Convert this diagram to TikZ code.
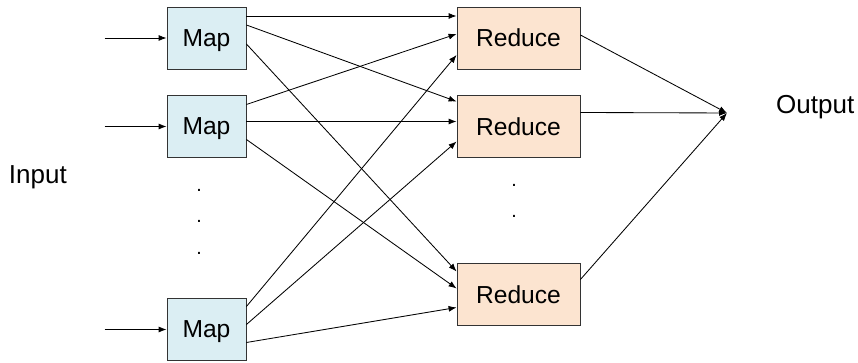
\documentclass[tikz,border=0pt]{standalone}
\usepackage{fontspec}
\setmainfont{Liberation Sans}
\usetikzlibrary{arrows.meta}

\definecolor{mapfill}{RGB}{219,238,243}
\definecolor{redfill}{RGB}{252,228,208}

\tikzset{
  mapbox/.style={draw=black!80, fill=mapfill, line width=0.6pt,
    minimum width=1.975cm, minimum height=1.55cm, inner sep=0pt, text depth=0pt},
  redbox/.style={draw=black!80, fill=redfill, line width=0.6pt,
    minimum width=3.075cm, minimum height=1.55cm, inner sep=0pt, text depth=0pt},
  flow/.style={-{Latex[length=2mm,width=1.5mm]}, line width=0.6pt},
  side/.style={anchor=base west, font=\fontsize{18.5}{22}\selectfont},
  gap/.style={anchor=base, inner sep=0pt, font=\fontsize{14}{16}\selectfont},
}

\begin{document}
\begin{tikzpicture}[font=\fontsize{17.5}{20}\selectfont]
  \useasboundingbox (0,0) rectangle (21.45,9.075);

  \node[mapbox] (m1) at (5.1625, 8.125) {Map};
  \node[mapbox] (m2) at (5.1625, 5.9125) {Map};
  \node[mapbox] (m3) at (5.1625, 0.8375) {Map};

  \node[redbox] (r1) at (12.9625, 8.125) {Reduce};
  \node[redbox] (r2) at (12.9625, 5.9125) {Reduce};
  \node[redbox] (r3) at (12.9625, 1.7125) {Reduce};

  \coordinate (out) at (18.175, 6.25);

  \node[side] (in) at (0.1, 4.49) {Input};
  \node[side] (res) at (19.28, 6.24) {Output};

  % the elided maps and reduces
  \foreach \y [count=\i] in {4.28,3.50,2.70}
    \node[gap] (mdot\i) at (4.975,\y) {.};
  \foreach \y [count=\i] in {4.41,3.63}
    \node[gap] (rdot\i) at (12.85,\y) {.};

  % input into each map
  \foreach \m in {m1,m2,m3}
    \draw[flow] ([xshift=-1.55cm]\m.west) coordinate (\m-in) -- (\m.west);

  % every map feeds every reduce
  \draw[flow] ([yshift=0.55cm]m1.east) -- ([yshift=0.55cm]r1.west);
  \draw[flow] ([yshift=0.325cm]m1.east) -- ([yshift=0.625cm]r2.west);
  \draw[flow] ([yshift=-0.15cm]m1.east) -- ([yshift=0.575cm]r3.west);
  \draw[flow] ([yshift=0.55cm]m2.east) -- ([yshift=0.1cm]r1.west);
  \draw[flow] ([yshift=0.125cm]m2.east) -- ([yshift=0.125cm]r2.west);
  \draw[flow] ([yshift=-0.325cm]m2.east) -- ([yshift=0.15cm]r3.west);
  \draw[flow] ([yshift=0.575cm]m3.east) -- ([yshift=-0.425cm]r1.west);
  \draw[flow] ([yshift=0.125cm]m3.east) -- ([yshift=-0.375cm]r2.west);
  \draw[flow] ([yshift=-0.325cm]m3.east) -- ([yshift=-0.325cm]r3.west);

  % reduces join into the output
  \draw[flow] ([yshift=0.075cm]r1.east) -- (out);
  \draw[flow] ([yshift=0.35cm]r2.east) -- (out);
  \draw[flow] ([yshift=0.375cm]r3.east) -- (out);
\end{tikzpicture}
\end{document}
